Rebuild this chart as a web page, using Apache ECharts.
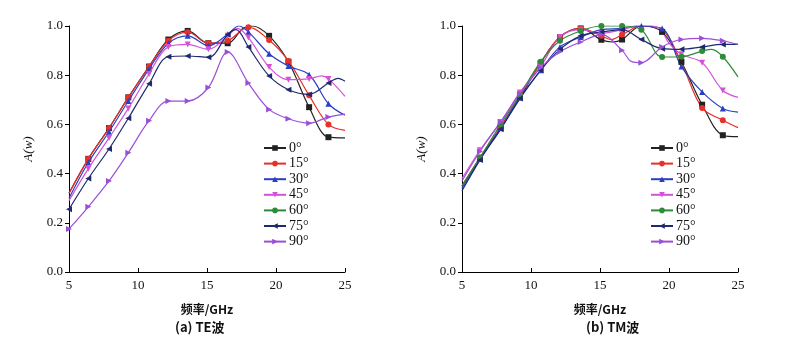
<!DOCTYPE html>
<html><head><meta charset="utf-8">
<script src="https://cdn.jsdelivr.net/npm/echarts@6/dist/echarts.min.js"></script>
<style>html,body{margin:0;padding:0;background:#fff}#c{width:792px;height:360px}</style>
</head><body><div id="c"></div>
<script>
// Tick labels
const xTicks = [5, 10, 15, 20, 25];
const yTicks = [0.0, 0.2, 0.4, 0.6, 0.8, 1.0];
const seriesNames = ['0°', '15°', '30°', '45°', '60°', '75°', '90°'];
const panelCaptions = ['(a) TE波', '(b) TM波'];
const xTitle = '频率/GHz';
const yTitle = 'A(w)';

// Each point: [frequency GHz, A(w), marker shown (1) or not (0)]
// ---- TE wave ----
const te0 = [[5,0.32,0],[6.4,0.46,1],[7.9,0.585,1],[9.3,0.71,1],[10.8,0.835,1],[12.2,0.945,1],[13.6,0.98,1],[15.1,0.93,1],[16.5,0.93,1],[17.6,0.99,0],[18.3,1.0,0],[19.5,0.96,1],[20.9,0.855,1],[22.4,0.67,1],[23.8,0.548,1],[25,0.545,0]];
const te15 = [[5,0.32,0],[6.4,0.46,1],[7.9,0.585,1],[9.3,0.71,1],[10.8,0.835,1],[12.2,0.94,1],[13.6,0.975,1],[15.1,0.93,1],[16.5,0.94,1],[18.0,0.995,1],[19.5,0.943,1],[20.9,0.858,1],[22.4,0.718,1],[23.8,0.600,1],[25,0.576,0]];
const te30 = [[5,0.30,0],[6.4,0.445,1],[7.9,0.57,1],[9.3,0.695,1],[10.8,0.825,1],[12.2,0.93,1],[13.6,0.96,1],[15.1,0.92,1],[16.5,0.966,1],[17.3,1.0,0],[18.0,0.976,1],[19.5,0.887,1],[20.9,0.837,1],[22.4,0.802,1],[23.8,0.684,1],[25,0.637,0]];
const te45 = [[5,0.29,0],[6.4,0.42,1],[7.9,0.545,1],[9.3,0.665,1],[10.8,0.805,1],[12.2,0.915,1],[13.6,0.925,1],[15.1,0.905,1],[16.5,0.96,1],[17.2,0.99,0],[18.0,0.953,1],[19.5,0.833,1],[20.9,0.782,1],[22.4,0.785,1],[23.3,0.797,0],[23.8,0.785,1],[25,0.714,0]];
const te60 = [];
const te75 = [[5,0.255,1],[6.4,0.38,1],[7.9,0.50,1],[9.3,0.625,1],[10.8,0.765,1],[12.2,0.875,1],[13.6,0.878,1],[15.1,0.873,1],[16.5,0.965,1],[17.1,0.985,0],[18.0,0.915,1],[19.5,0.797,1],[20.9,0.741,1],[22.4,0.722,1],[23.8,0.768,1],[24.5,0.787,0],[25,0.775,0]];
const te90 = [[5,0.175,1],[6.4,0.265,1],[7.9,0.37,1],[9.3,0.485,1],[10.8,0.615,1],[12.2,0.695,1],[13.6,0.695,1],[15.1,0.75,1],[16.5,0.894,1],[18.0,0.768,1],[19.5,0.661,1],[20.9,0.623,1],[22.4,0.605,1],[23.8,0.63,1],[25,0.642,0]];

// ---- TM wave ----
const tm0 = [[5,0.35,0],[6.3,0.46,1],[7.8,0.585,1],[9.2,0.71,1],[10.7,0.85,1],[12.1,0.955,1],[13.6,0.99,1],[15.1,0.944,1],[15.9,0.935,0],[16.6,0.945,1],[18.0,1.0,0],[19.5,0.976,1],[20.9,0.854,1],[22.4,0.680,1],[23.9,0.556,1],[25,0.55,0]];
const tm15 = [[5,0.35,0],[6.3,0.465,1],[7.8,0.59,1],[9.2,0.715,1],[10.7,0.85,1],[12.1,0.955,1],[13.6,0.99,1],[15.1,0.96,1],[15.8,0.945,0],[16.6,0.965,1],[18.0,1.0,0],[19.5,0.985,0],[20.9,0.85,0],[22.4,0.667,1],[23.9,0.617,1],[25,0.587,0]];
const tm30 = [[5,0.34,0],[6.3,0.46,1],[7.8,0.585,1],[9.2,0.71,1],[10.7,0.82,1],[12.1,0.915,1],[13.6,0.955,1],[15.1,0.985,1],[16.6,0.99,1],[18.0,1.0,1],[19.5,0.99,1],[20.9,0.835,1],[22.4,0.732,1],[23.9,0.665,1],[25,0.65,0]];
const tm45 = [[5,0.38,0],[6.3,0.495,1],[7.8,0.61,1],[9.2,0.73,1],[10.7,0.835,1],[12.1,0.955,1],[13.6,0.985,1],[15.1,0.97,1],[16.6,0.985,1],[18.0,1.005,1],[19.3,0.99,0],[20.0,0.93,0],[20.9,0.885,1],[22.4,0.851,1],[23.9,0.738,1],[25,0.71,0]];
const tm60 = [[5,0.35,0],[6.3,0.465,1],[7.8,0.60,1],[9.2,0.72,1],[10.7,0.855,1],[12.1,0.94,1],[13.6,0.98,1],[15.1,1.0,1],[16.6,1.0,1],[18.0,0.985,1],[19.5,0.874,1],[20.9,0.875,1],[22.4,0.898,1],[23.1,0.905,0],[23.9,0.875,1],[25,0.793,0]];
const tm75 = [[5,0.33,0],[6.3,0.455,1],[7.8,0.58,1],[9.2,0.705,1],[10.7,0.82,1],[12.1,0.905,1],[13.6,0.96,1],[15.1,0.975,1],[16.6,0.985,1],[18.0,0.945,1],[19.5,0.908,1],[20.9,0.905,1],[22.4,0.915,1],[23.9,0.925,1],[25,0.925,0]];
const tm90 = [[5,0.37,0],[6.3,0.49,1],[7.8,0.61,1],[9.2,0.725,1],[10.7,0.83,1],[12.1,0.895,1],[13.6,0.935,1],[15.1,0.965,1],[16.6,0.901,1],[17.3,0.855,0],[18.0,0.851,1],[19.5,0.915,1],[20.9,0.945,1],[22.4,0.95,1],[23.9,0.94,1],[25,0.925,0]];

const teData = [te0, te15, te30, te45, te60, te75, te90];
const tmData = [tm0, tm15, tm30, tm45, tm60, tm75, tm90];

const colors = ['#222222', '#e8302a', '#2a3fc4', '#d452d8', '#2e8b3a', '#1f2a6e', '#9a4fd8'];
const symbols = ['rect', 'circle', 'triangle', 'path://M0,0 L10,0 L5,9 Z', 'circle', 'path://M0,5 L9,0 L9,10 Z', 'path://M0,0 L9,5 L0,10 Z'];

const serif = '"Liberation Serif", "DejaVu Serif", serif';
const cjk = '"Noto Sans CJK SC", sans-serif';

const grids = [
  {left: 69, top: 26, width: 276, height: 246},
  {left: 462, top: 26, width: 276, height: 246}
];

function mkX(i) {
  return {
    type: 'value', gridIndex: i, min: 5, max: 25, interval: 5,
    axisLine: {lineStyle: {color: '#000', width: 1}},
    axisTick: {inside: true, length: 4, lineStyle: {color: '#000'}},
    axisLabel: {color: '#111', fontFamily: serif, fontSize: 13, margin: 7},
    splitLine: {show: false},
    name: xTitle, nameLocation: 'middle', nameGap: 31,
    nameTextStyle: {color: '#111', fontFamily: cjk, fontSize: 12, fontWeight: 'bold'}
  };
}
function mkY(i) {
  return {
    type: 'value', gridIndex: i, min: 0, max: 1, interval: 0.2,
    axisLine: {show: true, lineStyle: {color: '#000', width: 1}},
    axisTick: {show: true, inside: false, length: 4, lineStyle: {color: '#000'}},
    axisLabel: {color: '#111', fontFamily: serif, fontSize: 13, margin: 6,
      formatter: v => yTicks.find(t => Math.abs(t - v) < 1e-6).toFixed(1)},
    splitLine: {show: false},
    name: yTitle, nameLocation: 'middle', nameGap: 34, nameRotate: 90,
    nameTextStyle: {color: '#111', fontFamily: serif, fontSize: 13, fontStyle: 'italic'}
  };
}

const series = [];
[teData, tmData].forEach((set, gi) => {
  set.forEach((pts, si) => {
    series.push({
      name: seriesNames[si], type: 'line', xAxisIndex: gi, yAxisIndex: gi,
      smooth: 0.35, color: colors[si], symbol: symbols[si], symbolSize: 6,
      lineStyle: {width: 1.2, color: colors[si]},
      itemStyle: {color: colors[si]},
      z: 2 + (gi === 0 ? si : 0),
      data: pts.map(p => p[2] ? {value: [p[0], p[1]]} : {value: [p[0], p[1]], symbol: 'none'})
    });
  });
});

const legendCommon = {
  orient: 'vertical', itemWidth: 22, itemHeight: 7, itemGap: 1.6,
  textStyle: {color: '#111', fontFamily: serif, fontSize: 14, padding: [0, 0, 0, -2]},
  data: seriesNames.map(n => ({name: n})), padding: 0
};

const chart = echarts.init(document.getElementById('c'), null, {renderer: 'canvas'});
chart.setOption({
  backgroundColor: '#fff',
  animation: false,
  grid: grids,
  xAxis: [mkX(0), mkX(1)],
  yAxis: [mkY(0), mkY(1)],
  legend: [
    Object.assign({}, legendCommon, {left: 263, top: 141}),
    Object.assign({}, legendCommon, {left: 650, top: 141})
  ],
  series: series,
  graphic: [
    {type: 'text', left: 175, top: 321, style: {text: panelCaptions[0], fontFamily: cjk, fontSize: 13, fontWeight: 'bold', fill: '#111'}},
    {type: 'text', left: 586, top: 321, style: {text: panelCaptions[1], fontFamily: cjk, fontSize: 13, fontWeight: 'bold', fill: '#111'}}
  ]
});
</script></body></html>
